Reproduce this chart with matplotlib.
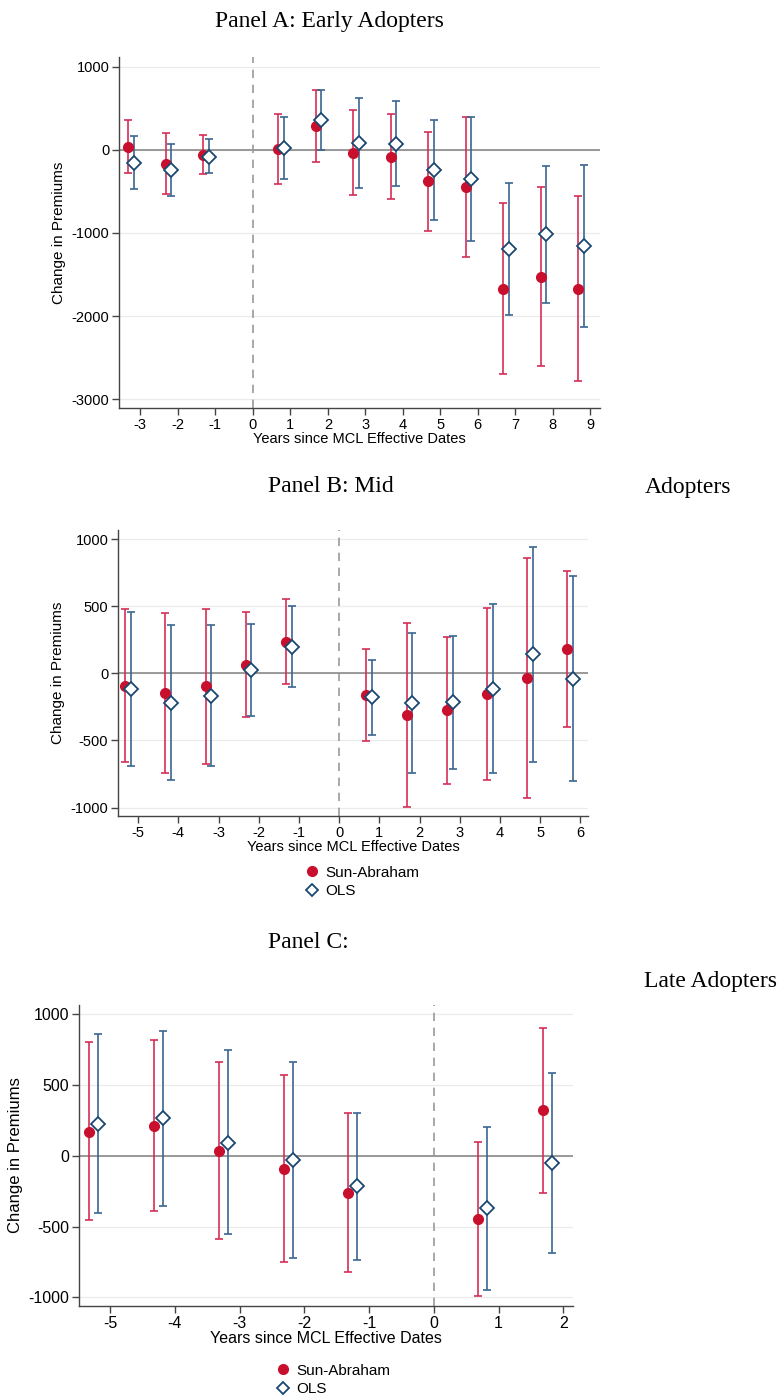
#%%
"""
Event study plots: Sun-Abraham vs OLS estimates of change in premiums
- Panel A early, Panel B mid, Panel C late adopters
"""
#%%
import numpy as np
import matplotlib.pyplot as plt
from matplotlib.lines import Line2D

#%% Data
# Panel A: early adopters
years_a  = [-3, -2, -1, 1, 2, 3, 4, 5, 6, 7, 8, 9]
sa_a     = [40, -165, -60, 12, 290, -32, -81, -379, -448, -1669, -1528, -1673]
sa_lo_a  = [-278, -536, -294, -411, -145, -548, -593, -972, -1294, -2702, -2601, -2786]
sa_hi_a  = [359, 206, 177, 431, 726, 484, 435, 218, 399, -633, -444, -556]
ols_a    = [-153, -242, -81, 28, 359, 81, 73, -238, -351, -1198, -1016, -1153]
ols_lo_a = [-472, -556, -282, -351, 0, -452, -435, -839, -1097, -1988, -1839, -2129]
ols_hi_a = [165, 77, 129, 403, 726, 625, 585, 367, 399, -403, -194, -181]

# Panel B: mid adopters
years_b  = [-5, -4, -3, -2, -1, 1, 2, 3, 4, 5, 6]
sa_b     = [-92, -147, -95, 65, 234, -164, -311, -274, -154, -35, 182]
sa_lo_b  = [-662, -739, -674, -326, -80, -505, -995, -821, -791, -928, -398]
sa_hi_b  = [478, 453, 480, 458, 552, 182, 373, 274, 488, 861, 766]
ols_b    = [-119, -219, -167, 22, 199, -179, -224, -216, -114, 142, -40]
ols_lo_b = [-692, -794, -692, -318, -100, -458, -744, -714, -746, -659, -801]
ols_hi_b = [455, 361, 361, 366, 502, 100, 299, 281, 517, 945, 726]

# Panel C: late adopters
years_c  = [-5, -4, -3, -2, -1, 1, 2]
sa_c     = [172, 212, 33, -90, -262, -443, 323]
sa_lo_c  = [-455, -392, -587, -750, -823, -988, -259]
sa_hi_c  = [802, 818, 660, 571, 304, 101, 906]
ols_c    = [226, 264, 94, -31, -215, -370, -50]
ols_lo_c = [-406, -351, -554, -719, -733, -946, -686]
ols_hi_c = [861, 884, 745, 663, 304, 205, 583]

yticks_a = [-3000, -2000, -1000, 0, 1000]
yticks_bc = [-1000, -500, 0, 500, 1000]

#%% Style
red_dot  = "#C8102E"
red_ci   = "#D62E55"
blue_dot = "#1A476F"
blue_ci  = "#3A6690"
W, H = 778, 1400
plt.rcParams["font.family"] = ["Liberation Sans", "DejaVu Sans"]
plt.rcParams["axes.unicode_minus"] = False
serif = ["Liberation Serif", "DejaVu Serif"]

def add_ax(fig, left, right, top, bottom):
    return fig.add_axes([left / W, 1 - bottom / H, (right - left) / W, (bottom - top) / H])

def panel(ax, years, sa, sa_lo, sa_hi, ols, ols_lo, ols_hi, xlim, ylim, yticks, fs):
    years = np.asarray(years, dtype=float)
    sa, ols = np.asarray(sa), np.asarray(ols)
    err_sa  = [sa - np.asarray(sa_lo), np.asarray(sa_hi) - sa]
    err_ols = [ols - np.asarray(ols_lo), np.asarray(ols_hi) - ols]
    for yt in yticks:
        ax.axhline(yt, color="#EBEBEB", lw=0.9, zorder=0)
    ax.axhline(0, color="#808080", lw=1.1, zorder=1)
    ax.axvline(0, color="#9A9A9A", lw=1.2, ls=(0, (5, 4)), zorder=1)
    ax.errorbar(years - 0.32, sa, yerr=err_sa, fmt="none", ecolor=red_ci,
                elinewidth=1.2, capsize=3, capthick=1.2, zorder=2)
    ax.errorbar(years - 0.18, ols, yerr=err_ols, fmt="none", ecolor=blue_ci,
                elinewidth=1.2, capsize=3, capthick=1.2, zorder=2)
    ax.plot(years - 0.32, sa, "o", color=red_dot, ms=7, zorder=3)
    ax.plot(years - 0.18, ols, "D", mfc="white", mec=blue_dot, mew=1.3, ms=6.8, zorder=3)
    ax.set_xlim(*xlim)
    ax.set_ylim(*ylim)
    ax.set_yticks(yticks)
    xt = np.arange(np.ceil(xlim[0]), np.floor(xlim[1]) + 1)
    ax.set_xticks(xt)
    ax.set_xticklabels([str(int(v)) for v in xt])
    for s in ["top", "right"]:
        ax.spines[s].set_visible(False)
    for s in ["left", "bottom"]:
        ax.spines[s].set_color("#444444")
        ax.spines[s].set_linewidth(1.0)
    ax.tick_params(direction="out", length=5, width=1, color="#444444", labelsize=fs, pad=2)
    ax.set_xlabel("Years since MCL Effective Dates", fontsize=fs, labelpad=0)
    ax.set_ylabel("Change in Premiums", fontsize=fs + 0.5, labelpad=4)

#%% Figure
fig = plt.figure(figsize=(W / 100, H / 100), dpi=100)

ax_a = add_ax(fig, 119, 600, 57, 408)
panel(ax_a, years_a, sa_a, sa_lo_a, sa_hi_a, ols_a, ols_lo_a, ols_hi_a,
      (-3.57, 9.26), (-3108, 1120), yticks_a, 10.5)

ax_b = add_ax(fig, 118, 588, 530, 816)
panel(ax_b, years_b, sa_b, sa_lo_b, sa_hi_b, ols_b, ols_lo_b, ols_hi_b,
      (-5.5, 6.19), (-1063, 1069), yticks_bc, 10.5)

ax_c = add_ax(fig, 79, 573, 1005, 1306)
panel(ax_c, years_c, sa_c, sa_lo_c, sa_hi_c, ols_c, ols_lo_c, ols_hi_c,
      (-5.48, 2.15), (-1061, 1066), yticks_bc, 11.5)

# titles (placed like the original document layout)
fig.text(215 / W, 1 - 22 / H, "Panel A: Early Adopters", family=serif, fontsize=17, va="center")
fig.text(268 / W, 1 - 487 / H, "Panel B: Mid", family=serif, fontsize=17, va="center")
fig.text(645 / W, 1 - 487 / H, "Adopters", family=serif, fontsize=17, va="center")
fig.text(268 / W, 1 - 943 / H, "Panel C:", family=serif, fontsize=17, va="center")
fig.text(644 / W, 1 - 982 / H, "Late Adopters", family=serif, fontsize=17, va="center")

# legends
handles = [Line2D([], [], ls="none", marker="o", color=red_dot, ms=7),
           Line2D([], [], ls="none", marker="D", mfc="white", mec=blue_dot, mew=1.3, ms=6.5)]
labels = ["Sun-Abraham", "OLS"]
fig.legend(handles, labels, loc="upper left", bbox_to_anchor=(292 / W, 1 - 852 / H),
           frameon=False, fontsize=11, handlelength=0.8, handletextpad=0.5, labelspacing=0.3)
fig.legend(handles, labels, loc="upper left", bbox_to_anchor=(263 / W, 1 - 1350 / H),
           frameon=False, fontsize=11, handlelength=0.8, handletextpad=0.5, labelspacing=0.3)

fig.savefig("out.png", dpi=100)
